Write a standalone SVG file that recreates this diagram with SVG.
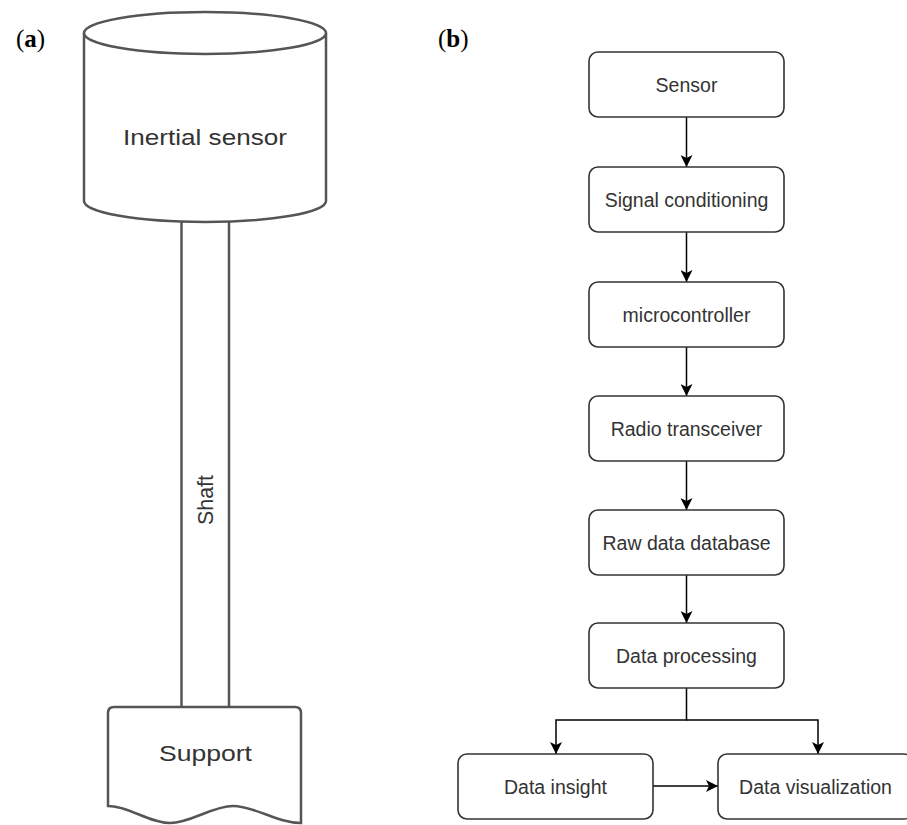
<svg xmlns="http://www.w3.org/2000/svg" width="907" height="825" viewBox="0 0 907 825">
  <defs>
    <marker id="arrow" viewBox="0 0 10 10" refX="10" refY="5" markerWidth="12" markerHeight="12" markerUnits="userSpaceOnUse" orient="auto">
      <path d="M0,0 L10,5 L0,10 L2.5,5 Z" fill="#000"/>
    </marker>
  </defs>
  <style>
    .panel { font-family: "Liberation Serif", "DejaVu Serif", serif; font-size: 25px; fill: #000; }
    .panel tspan.b { font-weight: bold; }
    .part { fill: #fff; stroke: #555; stroke-width: 2.5; }
    .partline { fill: none; stroke: #555; stroke-width: 2.5; }
    .ptxt { font-family: "Liberation Sans", Arial, sans-serif; font-size: 22px; fill: #333; text-anchor: middle; }
    .box { fill: #fff; stroke: #333; stroke-width: 1.6; }
    .btxt { font-family: "Liberation Sans", Arial, sans-serif; font-size: 19.5px; fill: #333; text-anchor: middle; }
    .edge { fill: none; stroke: #000; stroke-width: 1.5; }
  </style>
  <rect width="907" height="825" fill="#fff"/>

  <!-- panel labels -->
  <text class="panel" x="16" y="47">(<tspan class="b">a</tspan>)</text>
  <text class="panel" x="438" y="47">(<tspan class="b">b</tspan>)</text>

  <!-- (a) sensor assembly -->
  <g id="shaft">
    <line class="partline" x1="181.5" y1="221" x2="181.5" y2="708"/>
    <line class="partline" x1="229" y1="221" x2="229" y2="708"/>
    <text class="ptxt" transform="translate(213,500) rotate(-90)" x="0" y="0" font-size="20" textLength="50" lengthAdjust="spacingAndGlyphs">Shaft</text>
  </g>
  <g id="inertial-sensor">
    <path class="part" d="M84,33 L84,201 A121,21 0 0 0 326,201 L326,33"/>
    <ellipse class="part" cx="205" cy="33" rx="121" ry="21"/>
    <text class="ptxt" x="205" y="145" textLength="164" lengthAdjust="spacingAndGlyphs">Inertial sensor</text>
  </g>
  <g id="support">
    <path class="part" d="M108,806 L108,713 Q108,707 114,707 L295,707 Q301,707 301,713 L301,823 C 277,823 255,806 233,806 C 212,806 191,823 170,823 C 149,823 129,806 108,806 Z"/>
    <text class="ptxt" x="205.5" y="761" textLength="93" lengthAdjust="spacingAndGlyphs">Support</text>
  </g>

  <!-- (b) data flow -->
  <g id="connectors">
    <line class="edge" x1="686.5" y1="117" x2="686.5" y2="167" marker-end="url(#arrow)"/>
    <line class="edge" x1="686.5" y1="232" x2="686.5" y2="282" marker-end="url(#arrow)"/>
    <line class="edge" x1="686.5" y1="347" x2="686.5" y2="396" marker-end="url(#arrow)"/>
    <line class="edge" x1="686.5" y1="461" x2="686.5" y2="510" marker-end="url(#arrow)"/>
    <line class="edge" x1="686.5" y1="575" x2="686.5" y2="623" marker-end="url(#arrow)"/>
    <path class="edge" d="M686.5,688 V720 H556 V754" marker-end="url(#arrow)"/>
    <path class="edge" d="M686.5,720 H818 V754" marker-end="url(#arrow)"/>
    <line class="edge" x1="653" y1="786" x2="718" y2="786" marker-end="url(#arrow)"/>
  </g>

  <g id="sensor">
    <rect class="box" x="589" y="52" width="195" height="65" rx="9"/>
    <text class="btxt" x="686.5" y="91.5">Sensor</text>
  </g>
  <g id="signal-conditioning">
    <rect class="box" x="589" y="167" width="195" height="65" rx="9"/>
    <text class="btxt" x="686.5" y="206.5">Signal conditioning</text>
  </g>
  <g id="microcontroller">
    <rect class="box" x="589" y="282" width="195" height="65" rx="9"/>
    <text class="btxt" x="686.5" y="321.5">microcontroller</text>
  </g>
  <g id="radio-transceiver">
    <rect class="box" x="589" y="396" width="195" height="65" rx="9"/>
    <text class="btxt" x="686.5" y="435.5">Radio transceiver</text>
  </g>
  <g id="raw-data-database">
    <rect class="box" x="589" y="510" width="195" height="65" rx="9"/>
    <text class="btxt" x="686.5" y="549.5">Raw data database</text>
  </g>
  <g id="data-processing">
    <rect class="box" x="589" y="623" width="195" height="65" rx="9"/>
    <text class="btxt" x="686.5" y="662.5">Data processing</text>
  </g>
  <g id="data-insight">
    <rect class="box" x="458" y="754" width="195" height="65" rx="9"/>
    <text class="btxt" x="555.5" y="793.5">Data insight</text>
  </g>
  <g id="data-visualization">
    <rect class="box" x="718" y="754" width="195" height="65" rx="9"/>
    <text class="btxt" x="815.5" y="793.5">Data visualization</text>
  </g>
</svg>
